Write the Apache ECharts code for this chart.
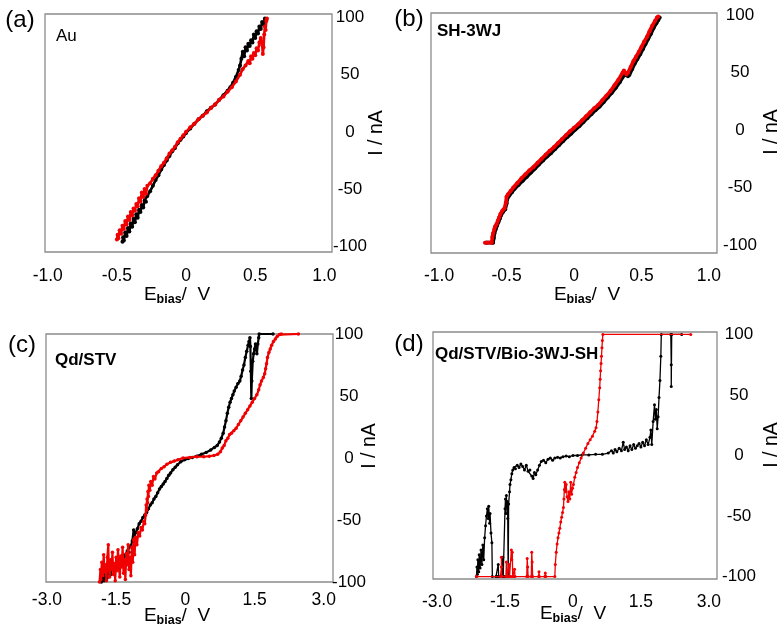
<!DOCTYPE html>
<html><head><meta charset="utf-8">
<script src="https://cdn.jsdelivr.net/npm/echarts@6/dist/echarts.min.js"></script>
<style>html,body{margin:0;padding:0;background:#fff}#c{width:784px;height:642px}</style>
</head><body><div id="c"></div>
<script>
// ---- tick labels ----
const xTicksAB = [-1, -0.5, 0, 0.5, 1];
const xTicksCD = [-3, -1.5, 0, 1.5, 3];
const yTicks = [-100, -50, 0, 50, 100];

// ---- panel labels ----
const panelLetters = ['(a)', '(b)', '(c)', '(d)'];
const sampleNames = ['Au', 'SH-3WJ', 'Qd/STV', 'Qd/STV/Bio-3WJ-SH'];

// ---- (a) Au : [E_bias (V), I (nA)] ----
const aBlack = [[-0.46,-96],[-0.455,-92],[-0.45,-95],[-0.44,-88],[-0.43,-91],[-0.42,-84],[-0.41,-87],[-0.40,-80],[-0.39,-83],[-0.38,-76],[-0.37,-79],[-0.36,-72],[-0.35,-75],[-0.34,-68],[-0.33,-70],[-0.32,-64],[-0.31,-66],[-0.30,-60],[-0.29,-61],[-0.28,-56],[-0.26,-52],[-0.24,-47],[-0.22,-42],[-0.20,-38],[-0.18,-33],[-0.16,-29],[-0.14,-25],[-0.12,-21],[-0.10,-17],[-0.08,-14],[-0.06,-10],[-0.04,-7],[-0.02,-4],[0,-1],[0.03,3],[0.06,7],[0.09,11],[0.12,14],[0.15,18],[0.18,21],[0.21,24],[0.24,28],[0.27,32],[0.30,36],[0.32,39],[0.34,43],[0.36,48],[0.38,54],[0.39,58],[0.40,64],[0.41,70],[0.42,66],[0.43,74],[0.44,71],[0.45,77],[0.46,75],[0.47,80],[0.48,78],[0.49,85],[0.50,82],[0.51,88],[0.52,86],[0.53,92],[0.54,90],[0.55,96],[0.56,94],[0.57,99],[0.58,97]];
const aRed = [[-0.50,-94],[-0.495,-90],[-0.49,-93],[-0.48,-86],[-0.47,-89],[-0.46,-82],[-0.45,-85],[-0.44,-78],[-0.43,-81],[-0.42,-74],[-0.41,-77],[-0.40,-70],[-0.39,-73],[-0.38,-67],[-0.37,-69],[-0.36,-63],[-0.35,-65],[-0.34,-58],[-0.33,-61],[-0.32,-53],[-0.31,-57],[-0.30,-50],[-0.29,-54],[-0.28,-47],[-0.26,-45],[-0.24,-41],[-0.22,-38],[-0.20,-34],[-0.18,-30],[-0.16,-27],[-0.14,-23],[-0.12,-19],[-0.10,-16],[-0.08,-13],[-0.06,-9],[-0.04,-6],[-0.02,-3],[0,0],[0.03,4],[0.06,7],[0.09,11],[0.12,14],[0.15,17],[0.18,21],[0.21,24],[0.24,28],[0.27,31],[0.30,35],[0.33,39],[0.36,44],[0.39,50],[0.41,55],[0.43,58],[0.45,62],[0.46,60],[0.47,66],[0.48,64],[0.49,69],[0.50,67],[0.51,73],[0.52,71],[0.53,78],[0.54,82],[0.55,76],[0.555,68],[0.56,74],[0.565,85],[0.57,92],[0.575,89],[0.58,97],[0.585,99]];

// ---- (b) SH-3WJ ----
const bBlack = [[-0.65,-98],[-0.60,-98],[-0.595,-94],[-0.59,-90],[-0.58,-86],[-0.57,-83],[-0.56,-80],[-0.55,-77],[-0.54,-74],[-0.525,-71],[-0.51,-69],[-0.50,-64],[-0.495,-60],[-0.48,-57],[-0.46,-54],[-0.44,-51],[-0.41,-47.5],[-0.38,-44],[-0.35,-40.5],[-0.32,-37],[-0.29,-33.5],[-0.26,-30],[-0.23,-26.5],[-0.20,-23],[-0.17,-20],[-0.14,-16.5],[-0.11,-13],[-0.08,-9.5],[-0.05,-6],[-0.02,-3],[0.01,0.5],[0.04,3.5],[0.07,7],[0.10,10.5],[0.13,14],[0.16,17.5],[0.19,20.5],[0.22,24.5],[0.25,28.5],[0.28,32.5],[0.31,37],[0.34,42],[0.37,47.5],[0.39,48.5],[0.40,47],[0.41,48],[0.43,53],[0.45,58],[0.47,62],[0.49,66],[0.51,70.5],[0.53,75],[0.55,79.5],[0.57,84],[0.59,89],[0.61,93],[0.625,96],[0.635,98]];
const bRed = [[-0.66,-98],[-0.61,-98],[-0.605,-93],[-0.60,-90],[-0.59,-86],[-0.585,-84],[-0.575,-82],[-0.565,-79],[-0.555,-76],[-0.545,-73],[-0.53,-70],[-0.515,-68],[-0.505,-63],[-0.50,-58],[-0.49,-56],[-0.47,-53],[-0.45,-50],[-0.42,-46],[-0.39,-42],[-0.36,-38.5],[-0.33,-35],[-0.30,-32],[-0.27,-28.5],[-0.24,-25],[-0.21,-21.5],[-0.18,-18],[-0.15,-15],[-0.12,-11.5],[-0.09,-8],[-0.06,-4.5],[-0.03,-1],[0,2],[0.03,5],[0.06,8.5],[0.09,12],[0.12,15.5],[0.15,19],[0.18,22],[0.21,26],[0.24,30],[0.27,34],[0.30,39],[0.33,44],[0.36,50],[0.37,52],[0.38,50],[0.39,48.5],[0.40,50],[0.42,55],[0.44,60],[0.46,64],[0.48,68],[0.50,72.5],[0.52,77],[0.54,81],[0.56,86],[0.58,91],[0.60,95],[0.615,98],[0.625,99]];

// ---- (c) Qd/STV ----
const cBlack = [[-1.82,-100],[-1.79,-97],[-1.76,-99],[-1.73,-94],[-1.70,-97],[-1.66,-91],[-1.62,-94],[-1.58,-88],[-1.54,-90],[-1.50,-85],[-1.46,-87],[-1.42,-81],[-1.38,-83],[-1.34,-78],[-1.30,-80],[-1.26,-75],[-1.22,-76],[-1.18,-71],[-1.15,-67],[-1.12,-58],[-1.10,-62],[-1.07,-60],[-1.04,-57],[-1.00,-53],[-0.96,-51],[-0.92,-48],[-0.88,-46],[-0.84,-44],[-0.80,-41],[-0.76,-38],[-0.72,-36],[-0.68,-33],[-0.64,-31],[-0.60,-28],[-0.56,-25],[-0.52,-23],[-0.48,-21],[-0.44,-19],[-0.40,-16.5],[-0.36,-14],[-0.32,-12],[-0.27,-9.5],[-0.22,-7.5],[-0.17,-5.5],[-0.10,-3],[-0.02,-1.5],[0.06,-0.5],[0.15,0.5],[0.25,1.5],[0.35,3],[0.45,4.5],[0.55,6.5],[0.63,8.5],[0.69,10],[0.74,13],[0.78,16],[0.82,20],[0.85,25],[0.88,30],[0.91,36],[0.94,41],[0.97,45],[1.00,48],[1.03,51],[1.06,54],[1.10,57],[1.14,60],[1.18,62],[1.21,66],[1.24,71],[1.27,75],[1.30,81],[1.33,86],[1.36,91],[1.38,94],[1.40,97],[1.41,90],[1.42,70],[1.43,48],[1.44,62],[1.46,78],[1.48,84],[1.50,88],[1.52,92],[1.55,84],[1.57,92],[1.59,97],[1.60,100],[1.90,100]];
const cRed = [[-1.86,-100],[-1.84,-90],[-1.83,-98],[-1.81,-84],[-1.79,-95],[-1.77,-78],[-1.75,-92],[-1.73,-86],[-1.71,-99],[-1.69,-80],[-1.67,-70],[-1.66,-88],[-1.64,-96],[-1.62,-82],[-1.60,-90],[-1.58,-76],[-1.56,-94],[-1.54,-85],[-1.52,-99],[-1.50,-80],[-1.48,-91],[-1.46,-74],[-1.44,-87],[-1.42,-96],[-1.40,-79],[-1.38,-88],[-1.36,-72],[-1.34,-93],[-1.32,-82],[-1.30,-98],[-1.28,-77],[-1.26,-86],[-1.24,-70],[-1.22,-90],[-1.20,-80],[-1.18,-95],[-1.16,-72],[-1.14,-84],[-1.12,-66],[-1.10,-78],[-1.08,-64],[-1.05,-70],[-1.02,-60],[-0.99,-63],[-0.96,-56],[-0.93,-58],[-0.90,-51],[-0.88,-53],[-0.86,-46],[-0.85,-38],[-0.84,-42],[-0.83,-33],[-0.82,-36],[-0.81,-27],[-0.80,-31],[-0.79,-22],[-0.77,-26],[-0.75,-19],[-0.72,-22],[-0.69,-15],[-0.66,-17],[-0.62,-12],[-0.58,-11],[-0.52,-8.5],[-0.46,-7],[-0.40,-5],[-0.32,-3.5],[-0.24,-2.5],[-0.16,-1.5],[-0.05,0],[0.10,0.5],[0.25,1],[0.40,1],[0.52,1.5],[0.62,2],[0.70,3],[0.76,5],[0.80,8],[0.84,10],[0.88,14],[0.92,16],[0.96,19],[1.00,20],[1.05,22],[1.10,24],[1.15,27],[1.20,30],[1.25,33],[1.30,36],[1.35,39],[1.40,42],[1.45,45],[1.50,48],[1.55,51],[1.59,55],[1.62,59],[1.65,62],[1.69,65],[1.72,68],[1.74,72],[1.76,76],[1.78,81],[1.81,85],[1.84,88],[1.87,91],[1.91,94],[1.95,96],[1.99,98],[2.04,99.5],[2.08,100],[2.45,100]];

// ---- (d) Qd/STV/Bio-3WJ-SH ----
const dBlack = [[-2.13,-100],[-2.12,-92],[-2.11,-98],[-2.10,-86],[-2.08,-96],[-2.07,-82],[-2.05,-93],[-2.03,-78],[-2.01,-90],[-1.99,-74],[-1.97,-86],[-1.95,-68],[-1.93,-58],[-1.91,-50],[-1.89,-44],[-1.87,-52],[-1.86,-42],[-1.84,-56],[-1.83,-48],[-1.81,-64],[-1.79,-72],[-1.78,-100],[-1.70,-100],[-1.66,-100],[-1.65,-90],[-1.64,-100],[-1.56,-100],[-1.55,-84],[-1.54,-100],[-1.51,-100],[-1.50,-44],[-1.49,-36],[-1.48,-48],[-1.47,-33],[-1.46,-42],[-1.45,-38],[-1.44,-52],[-1.43,-100],[-1.42,-40],[-1.40,-30],[-1.39,-24],[-1.37,-20],[-1.35,-15],[-1.33,-12],[-1.30,-10],[-1.27,-11],[-1.23,-8],[-1.19,-10],[-1.15,-7],[-1.11,-9],[-1.07,-12],[-1.03,-8],[-0.99,-13],[-0.95,-12],[-0.91,-17],[-0.88,-19],[-0.85,-14],[-0.82,-16],[-0.78,-12],[-0.74,-8],[-0.70,-5],[-0.65,-4],[-0.60,-6],[-0.55,-3],[-0.50,-2],[-0.45,-4],[-0.40,-2],[-0.34,-1.5],[-0.28,-2],[-0.22,-1],[-0.15,-0.5],[-0.08,-1],[0,0],[0.10,0],[0.20,0.5],[0.35,0.5],[0.50,1],[0.65,1],[0.78,2],[0.85,4],[0.89,2],[0.93,5],[0.97,3],[1.02,6],[1.07,4],[1.11,11],[1.14,5],[1.18,7],[1.22,4],[1.26,8],[1.30,5],[1.34,9],[1.38,6],[1.42,8],[1.46,10],[1.50,7],[1.54,11],[1.58,8],[1.62,13],[1.66,9],[1.70,15],[1.72,21],[1.74,9],[1.77,28],[1.80,42],[1.82,30],[1.84,38],[1.86,22],[1.88,32],[1.90,48],[1.92,62],[1.94,82],[1.95,100],[2.16,100],[2.17,75],[2.17,57],[2.18,100],[2.40,100]];
const dRed = [[-2.13,-100],[-1.60,-100],[-1.58,-92],[-1.58,-84],[-1.57,-100],[-1.48,-100],[-1.47,-88],[-1.46,-100],[-1.42,-100],[-1.41,-90],[-1.40,-100],[-1.37,-100],[-1.36,-78],[-1.35,-86],[-1.34,-80],[-1.33,-100],[-1.30,-100],[-1.29,-94],[-1.28,-100],[-1.02,-100],[-1.01,-85],[-1.00,-92],[-0.99,-100],[-0.92,-100],[-0.91,-80],[-0.90,-88],[-0.89,-100],[-0.76,-100],[-0.75,-96],[-0.74,-100],[-0.62,-100],[-0.61,-97],[-0.60,-100],[-0.40,-100],[-0.39,-90],[-0.37,-80],[-0.35,-73],[-0.33,-68],[-0.31,-64],[-0.29,-60],[-0.27,-55],[-0.25,-51],[-0.23,-47],[-0.21,-43],[-0.20,-36],[-0.19,-28],[-0.18,-22],[-0.17,-30],[-0.15,-24],[-0.13,-34],[-0.11,-38],[-0.09,-30],[-0.07,-36],[-0.05,-22],[-0.03,-32],[-0.01,-27],[0.01,-24],[0.04,-18],[0.07,-14],[0.10,-10],[0.14,-6],[0.18,-2],[0.23,2],[0.28,6],[0.33,10],[0.38,13],[0.43,16],[0.48,20],[0.51,23],[0.53,28],[0.55,36],[0.57,46],[0.59,56],[0.60,63],[0.61,70],[0.62,76],[0.63,82],[0.64,89],[0.65,95],[0.66,100],[2.60,100]];

const FONT = '"Liberation Sans", Arial, Helvetica, sans-serif';
const panels = [
  {grid:{left:45,top:14,width:287,height:238}, xMin:-1.02, xMax:1.055, yMin:-105, yMax:103, xTicks:xTicksAB, black:aBlack, red:aRed, yMargin:18, xMargin:15, lw:2.6, sym:4},
  {grid:{left:431,top:13,width:286,height:240}, xMin:-1.06, xMax:1.06, yMin:-107, yMax:102, xTicks:xTicksAB, black:bBlack, red:bRed, yMargin:23, xMargin:14, lw:3.6, sym:4},
  {grid:{left:46,top:334,width:287,height:248}, xMin:-3.02, xMax:3.2, yMin:-100, yMax:100, xTicks:xTicksCD, black:cBlack, red:cRed, yMargin:16, xMargin:9, lw:2.2, sym:3.5},
  {grid:{left:433,top:332,width:284,height:247}, xMin:-3.09, xMax:3.18, yMin:-102, yMax:102, xTicks:xTicksCD, black:dBlack, red:dRed, yMargin:22, xMargin:14, lw:1.3, sym:3}
];
const letterPos = [[20,20],[409,19],[22,345],[409,344]];
const namePos = [[56,36,'normal'],[437,31,'bold'],[55,360,'bold'],[435,354,'bold']];
const xNamePos = [[177,295],[587,295],[177,616],[573,614]];
const yNamePos = [[377,133],[772,132],[370,446],[772,445]];

const grids = [], xAxes = [], yAxes = [], series = [], graphics = [];
panels.forEach((p, i) => {
  grids.push(Object.assign({show:true, borderColor:'#8c8c8c', borderWidth:1.3, backgroundColor:'transparent'}, p.grid));
  xAxes.push({type:'value', gridIndex:i, min:p.xMin, max:p.xMax,
    axisLine:{show:false}, axisTick:{show:false}, splitLine:{show:false},
    axisLabel:{customValues:p.xTicks, margin:p.xMargin, color:'#000', fontSize:17.5, fontFamily:FONT,
      formatter: v => (Math.abs(v) < 1e-9 ? '0' : Number(v).toFixed(1))}});
  yAxes.push({type:'value', gridIndex:i, position:'right', min:p.yMin, max:p.yMax,
    axisLine:{show:false}, axisTick:{show:false}, splitLine:{show:false},
    axisLabel:{customValues:yTicks, margin:p.yMargin, align:'center', color:'#000', fontSize:17, fontFamily:FONT,
      formatter: v => String(Math.round(v))}});
  series.push({type:'line', xAxisIndex:i, yAxisIndex:i, data:p.black, symbol:'circle', symbolSize:p.sym, showSymbol:true,
    lineStyle:{width:p.lw, color:'#000'}, itemStyle:{color:'#000'}, z:2, silent:true});
  series.push({type:'line', xAxisIndex:i, yAxisIndex:i, data:p.red, symbol:'circle', symbolSize:p.sym, showSymbol:true,
    lineStyle:{width:p.lw, color:'#f00000'}, itemStyle:{color:'#f00000'}, z:3, silent:true});

  graphics.push({type:'text', x:letterPos[i][0], y:letterPos[i][1],
    style:{text:panelLetters[i], font:'24px ' + FONT, fill:'#000', align:'center', verticalAlign:'middle', textAlign:'center', textVerticalAlign:'middle'}});
  graphics.push({type:'text', x:namePos[i][0], y:namePos[i][1],
    style:{text:sampleNames[i], font:namePos[i][2] + ' 17px ' + FONT, fill:'#000', align:'left', verticalAlign:'middle', textAlign:'left', textVerticalAlign:'middle'}});
  graphics.push({type:'text', x:xNamePos[i][0], y:xNamePos[i][1],
    style:{text:'{e|E}{s|bias}{e|/  V}', fill:'#000', align:'center', verticalAlign:'middle', textAlign:'center', textVerticalAlign:'middle',
      rich:{e:{fontSize:19, fontFamily:FONT, fill:'#000', color:'#000'}, s:{fontSize:12.5, fontWeight:'bold', fontFamily:FONT, padding:[9,0,0,0], fill:'#000', color:'#000'}}}});
  graphics.push({type:'text', x:yNamePos[i][0], y:yNamePos[i][1], rotation:Math.PI/2,
    style:{text:'I / nA', font:'19.5px ' + FONT, fill:'#000', align:'center', verticalAlign:'middle', textAlign:'center', textVerticalAlign:'middle'}});
});

const chart = echarts.init(document.getElementById('c'), null, {renderer:'canvas'});
chart.setOption({
  animation:false,
  backgroundColor:'#fff',
  grid:grids, xAxis:xAxes, yAxis:yAxes, series:series, graphic:graphics
});
</script></body></html>
